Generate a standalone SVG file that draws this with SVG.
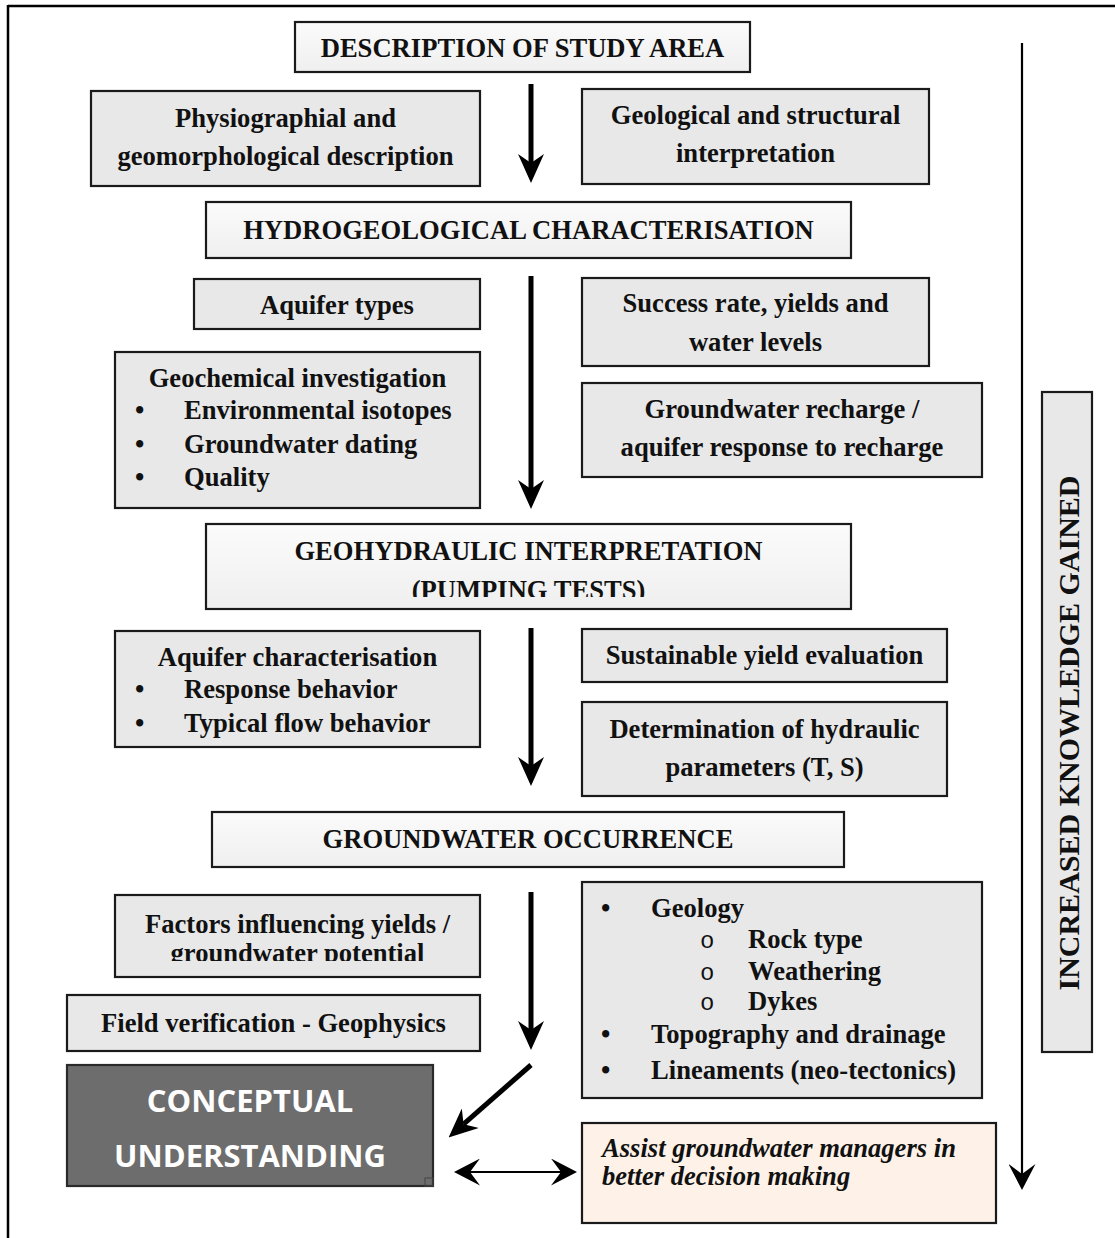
<svg xmlns="http://www.w3.org/2000/svg" width="1115" height="1238" viewBox="0 0 1115 1238">
<style>
  .t { font-family: "Liberation Serif", "Times New Roman", serif; font-weight: bold; font-size: 26.6px; fill: #111; }
  .c { text-anchor: middle; }
  .it { font-style: italic; }
  .mono { font-family: "Liberation Mono", "Courier New", monospace; font-weight: normal; font-size: 24px; fill: #111; }
  .box { fill: #e8e8e8; stroke: #1a1a1a; stroke-width: 2.2; }
  .hdr { fill: url(#hdrGrad); stroke: #1a1a1a; stroke-width: 2.2; }
  .peach { fill: #fdf1e8; stroke: #1a1a1a; stroke-width: 2.2; }
  .dark { fill: #6d6d6d; stroke: #2a2a2a; stroke-width: 2.2; }
  .cw { font-family: "Open Sans", "Noto Sans", sans-serif; font-weight: bold; font-size: 31px; fill: #ffffff; text-anchor: middle; }
  .thick { stroke: #000; stroke-width: 5; fill: none; }
  .thin { stroke: #000; stroke-width: 2.2; fill: none; }
</style>
<defs>
  <linearGradient id="hdrGrad" x1="0" y1="0" x2="0" y2="1">
    <stop offset="0" stop-color="#fbfbfb"/>
    <stop offset="1" stop-color="#efefef"/>
  </linearGradient>
  <marker id="headThick" viewBox="0 0 29 26" markerUnits="userSpaceOnUse" markerWidth="29" markerHeight="26" refX="9" refY="13" orient="auto">
    <path d="M0,0 L29,13 L0,26 L9,13 Z" fill="#000"/>
  </marker>
  <marker id="headThin" viewBox="0 0 26 27" markerUnits="userSpaceOnUse" markerWidth="26" markerHeight="27" refX="10" refY="13.5" orient="auto-start-reverse">
    <path d="M0,0 L26,13.5 L0,27 L10,13.5 Z" fill="#000"/>
  </marker>
  <clipPath id="clipGeo"><rect x="206" y="524" width="645" height="73"/></clipPath>
  <clipPath id="clipFac"><rect x="115" y="895" width="365" height="66"/></clipPath>
</defs>

<rect width="1115" height="1238" fill="#ffffff"/>

<g id="frame">
  <line x1="8" y1="6" x2="1115" y2="6" stroke="#000" stroke-width="2.5"/>
  <line x1="8" y1="5" x2="8" y2="1238" stroke="#000" stroke-width="2.5"/>
</g>

<g id="n-description">
  <rect class="hdr" x="295" y="22" width="455" height="50"/>
  <text class="t c" x="522.5" y="57">DESCRIPTION OF STUDY AREA</text>
</g>

<g id="n-physio">
  <rect class="box" x="91" y="91" width="389" height="95"/>
  <text class="t c" x="285.5" y="127">Physiographial and</text>
  <text class="t c" x="285.5" y="165">geomorphological description</text>
</g>

<g id="n-geological">
  <rect class="box" x="582" y="89" width="347" height="95"/>
  <text class="t c" x="755.5" y="124">Geological and structural</text>
  <text class="t c" x="755.5" y="162">interpretation</text>
</g>

<g id="n-hydro">
  <rect class="hdr" x="206" y="202" width="645" height="56"/>
  <text class="t c" x="528.5" y="239">HYDROGEOLOGICAL CHARACTERISATION</text>
</g>

<g id="n-aquifer-types">
  <rect class="box" x="194" y="279" width="286" height="50"/>
  <text class="t c" x="337" y="314">Aquifer types</text>
</g>

<g id="n-success">
  <rect class="box" x="582" y="278" width="347" height="88"/>
  <text class="t c" x="755.5" y="312">Success rate, yields and</text>
  <text class="t c" x="755.5" y="351">water levels</text>
</g>

<g id="n-geochem">
  <rect class="box" x="115" y="352" width="365" height="156"/>
  <text class="t c" x="297.5" y="387">Geochemical investigation</text>
  <text class="t" x="135" y="419">•</text>
  <text class="t" x="184" y="419">Environmental isotopes</text>
  <text class="t" x="135" y="453">•</text>
  <text class="t" x="184" y="453">Groundwater dating</text>
  <text class="t" x="135" y="486">•</text>
  <text class="t" x="184" y="486">Quality</text>
</g>

<g id="n-recharge">
  <rect class="box" x="582" y="383" width="400" height="94"/>
  <text class="t c" x="782" y="418">Groundwater recharge /</text>
  <text class="t c" x="782" y="456">aquifer response to recharge</text>
</g>

<g id="n-geohydraulic">
  <rect class="hdr" x="206" y="524" width="645" height="85"/>
  <g clip-path="url(#clipGeo)">
    <text class="t c" x="528.5" y="560">GEOHYDRAULIC INTERPRETATION</text>
    <text class="t c" x="528.5" y="599">(PUMPING TESTS)</text>
  </g>
</g>

<g id="n-aquifer-char">
  <rect class="box" x="115" y="631" width="365" height="116"/>
  <text class="t c" x="297.5" y="666">Aquifer characterisation</text>
  <text class="t" x="135" y="698">•</text>
  <text class="t" x="184" y="698">Response behavior</text>
  <text class="t" x="135" y="732">•</text>
  <text class="t" x="184" y="732">Typical flow behavior</text>
</g>

<g id="n-sustainable">
  <rect class="box" x="582" y="629" width="365" height="53"/>
  <text class="t c" x="764.5" y="664">Sustainable yield evaluation</text>
</g>

<g id="n-determination">
  <rect class="box" x="582" y="702" width="365" height="94"/>
  <text class="t c" x="764.5" y="738">Determination of hydraulic</text>
  <text class="t c" x="764.5" y="776">parameters (T, S)</text>
</g>

<g id="n-occurrence">
  <rect class="hdr" x="212" y="812" width="632" height="55"/>
  <text class="t c" x="528" y="848">GROUNDWATER OCCURRENCE</text>
</g>

<g id="n-factors">
  <rect class="box" x="115" y="895" width="365" height="82"/>
  <g clip-path="url(#clipFac)">
    <text class="t c" x="297.5" y="933">Factors influencing yields /</text>
    <text class="t c" x="297.5" y="962">groundwater potential</text>
  </g>
</g>

<g id="n-field">
  <rect class="box" x="67" y="995" width="413" height="56"/>
  <text class="t c" x="273.5" y="1032">Field verification - Geophysics</text>
</g>

<g id="n-geology-list">
  <rect class="box" x="582" y="882" width="400" height="216"/>
  <text class="t" x="601" y="917">•</text>
  <text class="t" x="651" y="917">Geology</text>
  <text class="mono" x="700" y="948">o</text>
  <text class="t" x="748" y="948">Rock type</text>
  <text class="mono" x="700" y="980">o</text>
  <text class="t" x="748" y="980">Weathering</text>
  <text class="mono" x="700" y="1010">o</text>
  <text class="t" x="748" y="1010">Dykes</text>
  <text class="t" x="601" y="1043">•</text>
  <text class="t" x="651" y="1043">Topography and drainage</text>
  <text class="t" x="601" y="1079">•</text>
  <text class="t" x="651" y="1079">Lineaments (neo-tectonics)</text>
</g>

<g id="n-conceptual">
  <rect class="dark" x="67" y="1065" width="366" height="121"/>
  <rect x="425" y="1178" width="8" height="8" fill="none" stroke="#444" stroke-width="1"/>
  <text class="cw" x="250" y="1112">CONCEPTUAL</text>
  <text class="cw" x="250" y="1167">UNDERSTANDING</text>
</g>

<g id="n-assist">
  <rect class="peach" x="582" y="1123" width="414" height="100"/>
  <text class="t it" x="602" y="1157">Assist groundwater managers in</text>
  <text class="t it" x="602" y="1185">better decision making</text>
</g>

<g id="n-increased">
  <rect class="box" x="1042" y="392" width="50" height="660"/>
  <text class="t c" transform="translate(1079,733) rotate(-90)" x="0" y="0" style="font-size:30px">INCREASED KNOWLEDGE GAINED</text>
</g>

<g id="connectors">
  <line class="thick" x1="531" y1="84" x2="531" y2="163" marker-end="url(#headThick)"/>
  <line class="thick" x1="531" y1="276" x2="531" y2="489" marker-end="url(#headThick)"/>
  <line class="thick" x1="531" y1="628" x2="531" y2="766" marker-end="url(#headThick)"/>
  <line class="thick" x1="531" y1="892" x2="531" y2="1030" marker-end="url(#headThick)"/>
  <line class="thick" x1="531" y1="1065" x2="463.6" y2="1124.2" marker-end="url(#headThick)"/>
  <line class="thin" x1="470" y1="1172" x2="561" y2="1172" marker-start="url(#headThin)" marker-end="url(#headThin)"/>
  <line class="thin" x1="1022" y1="43" x2="1022" y2="1174" marker-end="url(#headThin)"/>
</g>
</svg>
